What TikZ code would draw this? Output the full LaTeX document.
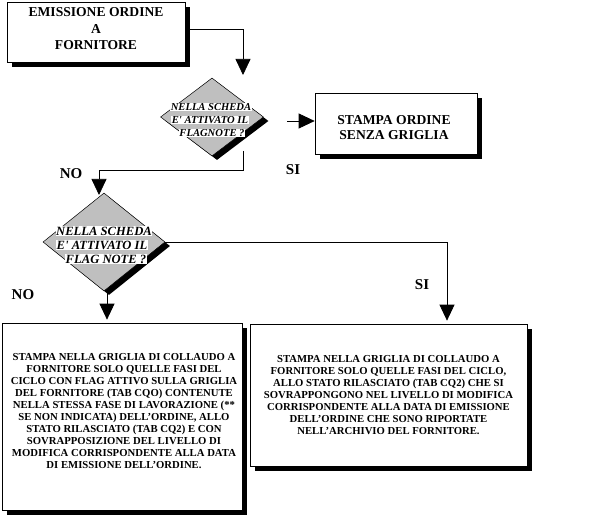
\documentclass[tikz,border=0pt]{standalone}
\usepackage{fontspec}
\setmainfont{Liberation Serif}
\usetikzlibrary{shapes.geometric,shadows,arrows.meta,calc}
\begin{document}
\begin{tikzpicture}[x=1pt,y=-1pt,
  box/.style={draw=black, fill=white, line width=0.7pt, rectangle, inner sep=0pt, align=center,
    general shadow={fill=black, shadow xshift=5pt, shadow yshift=-5pt}},
  dia/.style={diamond, draw=black, fill=black!25, line width=0.5pt, inner sep=0pt,
    general shadow={fill=black, shadow xshift=5pt, shadow yshift=-4pt}},
  conn/.style={line width=0.75pt},
  arr/.style={conn, -{Triangle[width=15pt,length=16pt]}},
  dtxt/.style={fill=white, inner sep=0.7pt},
  lbl/.style={font=\fontsize{15}{15}\selectfont\bfseries},
  bigtxt/.style={align=center, inner sep=0pt, font=\fontsize{13.6}{16.5}\selectfont\bfseries},
  smalltxt/.style={font=\fontsize{10.7}{12.1}\selectfont\bfseries}
]
\useasboundingbox (0,0) rectangle (605,529);

% boxes
\node[box, minimum width=178pt, minimum height=60pt] (top) at (96,32) {};
\node[bigtxt] (topt) at (96,29) {EMISSIONE ORDINE\\A\\FORNITORE};
\node[box, minimum width=162pt, minimum height=61pt] (s1) at (396,123.5) {};
\node[bigtxt, font=\fontsize{13.6}{15}\selectfont\bfseries] (s1t) at (394,128) {STAMPA ORDINE\\SENZA GRIGLIA};
\node[box, minimum width=240pt, minimum height=187pt] (bl) at (122,416.5) {};
\node[smalltxt, align=center, inner sep=0pt] (blt) at (124,411)
  {STAMPA NELLA GRIGLIA DI COLLAUDO A\\
   FORNITORE SOLO QUELLE FASI DEL\\
   CICLO CON FLAG ATTIVO SULLA GRIGLIA\\
   DEL FORNITORE (TAB CQO) CONTENUTE\\
   NELLA STESSA FASE DI LAVORAZIONE (**\\
   SE NON INDICATA) DELL’ORDINE, ALLO\\
   STATO RILASCIATO (TAB CQ2) E CON\\
   SOVRAPPOSIZIONE DEL LIVELLO DI\\
   MODIFICA CORRISPONDENTE ALLA DATA\\
   DI EMISSIONE DELL’ORDINE.};
\node[box, smalltxt, minimum width=277pt, minimum height=142pt] (br) at (388.5,395)
  {STAMPA NELLA GRIGLIA DI COLLAUDO A\\
   FORNITORE SOLO QUELLE FASI DEL CICLO,\\
   ALLO STATO RILASCIATO (TAB CQ2) CHE SI\\
   SOVRAPPONGONO NEL LIVELLO DI MODIFICA\\
   CORRISPONDENTE ALLA DATA DI EMISSIONE\\
   DELL’ORDINE CHE SONO RIPORTATE\\
   NELL’ARCHIVIO DEL FORNITORE.};

% diamonds
\node[dia, minimum width=103pt, minimum height=78pt] (d1) at (212,117) {};
\tikzset{d1f/.style={dtxt, font=\fontsize{10.6}{10.6}\selectfont\bfseries\itshape}}
\node[d1f] (d1a) at (211,107) {NELLA SCHEDA};
\node[d1f] (d1b) at (210,120) {E\textquotesingle{} ATTIVATO IL};
\node[d1f] (d1c) at (212,133) {FLAGNOTE ?};

\node[dia, minimum width=122pt, minimum height=98pt] (d2) at (104,242) {};
\tikzset{d2f/.style={dtxt, font=\fontsize{12.6}{12.6}\selectfont\bfseries\itshape}}
\node[d2f] (d2a) at (104,231) {NELLA SCHEDA};
\node[d2f] (d2b) at (102,245) {E\textquotesingle{} ATTIVATO IL};
\node[d2f] (d2c) at (106,259) {FLAG NOTE ?};

% connector end points
\coordinate (a1) at (243,75);
\coordinate (b1) at (243,151);
\coordinate (a2) at (99,195);
\coordinate (c3) at (287,121);

% connectors
\draw[arr] ([yshift=3pt]top.east) -| (a1);
\draw[arr] (b1) -- ++(0,19) -| (a2);
\draw[arr] (c3) -- (c3 -| s1.west);
\draw[arr] (d2.east) -| ($(br.north)+(58.5,-3)$);
\draw[arr] ([xshift=3pt]d2.south) -- ($([xshift=3pt]d2.south |- bl.north)+(0,-3)$);

% labels
\node[lbl] (no1) at (71,174) {NO};
\node[lbl] (si1) at (293,170) {SI};
\node[lbl] (no2) at (23,295) {NO};
\node[lbl] (si2) at (422,285) {SI};
\end{tikzpicture}
\end{document}
